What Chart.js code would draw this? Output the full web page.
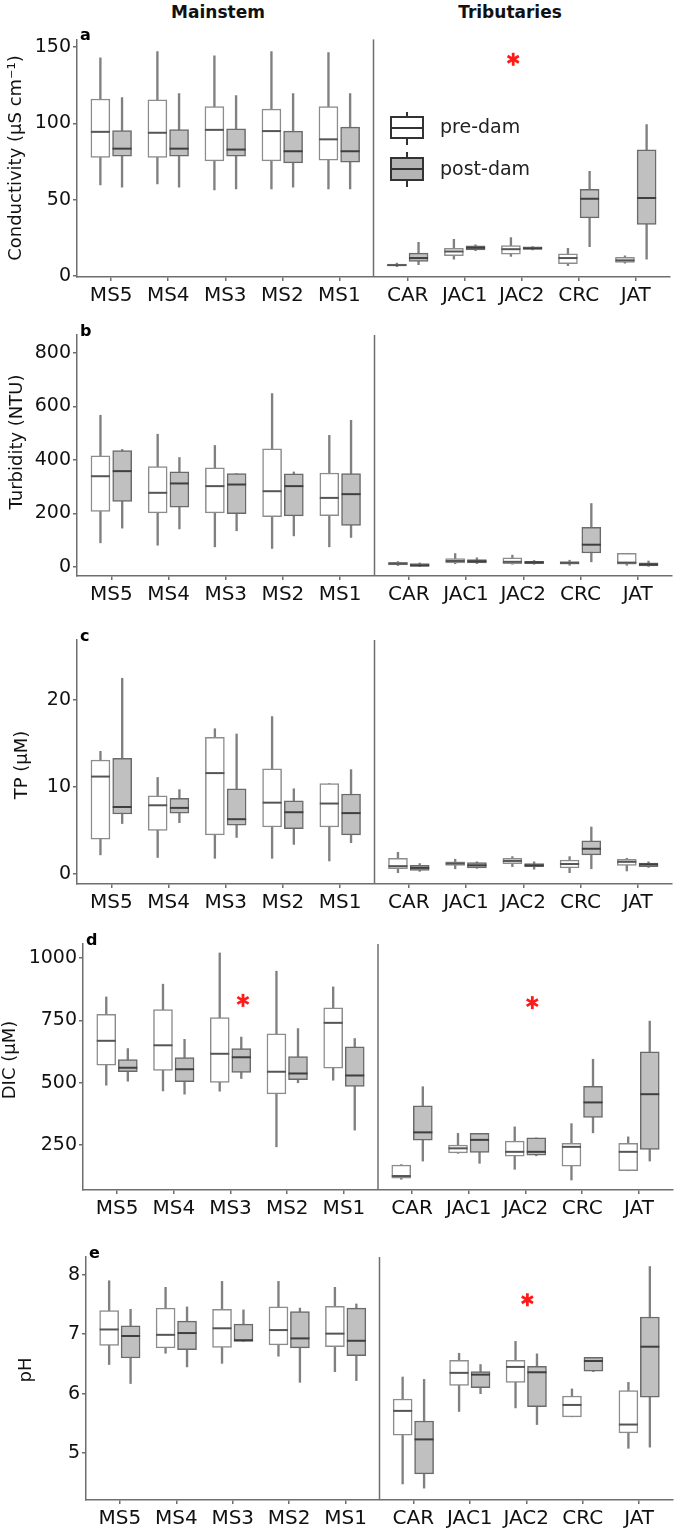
<!DOCTYPE html>
<html><head><meta charset="utf-8">
<script src="https://cdn.jsdelivr.net/npm/chart.js@4.4.0/dist/chart.umd.min.js"></script>
<style>
body{margin:0;background:#fff;width:685px;height:1533px;position:relative;overflow:hidden;font-family:'DejaVu Sans',sans-serif;}
canvas{position:absolute;left:0;}
.hdr{position:absolute;top:2px;font:bold 17px 'DejaVu Sans',sans-serif;color:#111;transform:translateX(-50%);white-space:nowrap;line-height:20px;}
</style></head><body>
<div class="hdr" style="left:218px">Mainstem</div>
<div class="hdr" style="left:510px">Tributaries</div>
<canvas id="cA"></canvas>
<canvas id="cB"></canvas>
<canvas id="cC"></canvas>
<canvas id="cD"></canvas>
<canvas id="cE"></canvas>
<script>
// ---------------- DATA ----------------
const categories = ['MS5','MS4','MS3','MS2','MS1','CAR','JAC1','JAC2','CRC','JAT'];
// each entry: [min, q1, median, q3, max]
const condPre = [[59.8,77.7,94.5,116,142.9],[60.4,77.7,93.9,115.5,147],[56.5,75.5,95.8,111,144.2],[57.2,75.5,95,109.4,147],[57.2,76,89.6,111,146.3],
  [6.2,6.8,7.3,8,8.6],[11.2,13.4,16.2,18.3,24.2],[13,14.5,17.7,20,25.3],[6.9,8.2,11.9,14.7,18.3],[8.6,9.1,10.4,12.3,13.4]];
const condPost = [[58.3,78.6,83.5,95.4,117],[58.3,78.6,83.5,96,119.6],[57.2,78.6,82.9,96.5,118.3],[58.3,74.2,81.8,95,119.6],[57.2,74.7,81.8,97.6,119.6],
  [7.6,9.7,11.9,15.1,22.2],[16.8,17.3,18.6,19.9,20.5],[17.3,17.5,18.3,19.2,19.4],[19.4,38.2,50.7,56.8,68.6],[11.2,33.9,51.2,82.7,99.3]];
const turbPre = [[90,207,339,415,567],[81,202,277,375,496],[75,202,302,370,454],[69,188,283,441,648],[75,192,258,351,492],
  [5,7.5,12,17,20],[12,15,22,31,50],[10,12,19,34,44],[6,10,15,20,25],[6,10,16,51,51]];
const turbPost = [[145,245,358,435,439],[142,223,312,355,409],[135,199,308,349,349],[116,191,302,348,355],[110,155,272,349,548],
  [1,2,6,12,15],[12,15,21,27,34],[10,12,17,21,24],[19,52,83,148,237],[2,4,9,15,22]];
const tpPre = [[2.2,4.0,11.2,13.1,14.1],[1.9,5.0,7.9,9.0,11.1],[1.8,4.5,11.6,15.7,16.7],[1.8,5.4,8.2,12.1,18.1],[1.5,5.4,8.1,10.4,10.4],
  [0.15,0.6,0.9,1.8,2.5],[0.6,1.0,1.2,1.4,1.7],[0.85,1.2,1.5,1.8,2.0],[0.15,0.7,1.15,1.6,2.0],[0.35,1.0,1.4,1.7,1.8]];
const tpPost = [[5.8,6.9,7.7,13.3,22.5],[5.9,7.0,7.6,8.7,9.7],[4.2,5.6,6.3,9.8,16.1],[3.4,5.2,7.1,8.4,9.8],[3.6,4.5,7.0,9.2,12.0],
  [0.3,0.4,0.7,1.0,1.2],[0.65,0.7,1.0,1.3,1.4],[0.55,0.85,1.0,1.2,1.4],[0.6,2.2,2.9,3.8,5.4],[0.75,0.85,1.1,1.25,1.4]];
const dicPre = [[490,570,668,774,844],[467,549,650,793,895],[466,501,616,761,1020],[243,455,544,696,947],[510,558,740,800,884],
  [113,117,126,170,172],[217,219,237,250,297],[153,206,223,266,323],[110,166,243,257,336],[147,147,223,257,283]];
const dicPost = [[506,544,560,593,637],[454,504,554,601,674],[517,541,602,637,683],[500,512,537,605,717],[310,485,529,644,677],
  [186,270,301,407,484],[177,221,271,297,297],[207,210,223,279,279],[299,361,421,486,594],[186,233,454,624,747]];
const phPre = [[6.49,6.81,7.08,7.40,7.90],[6.68,6.77,6.99,7.44,7.79],[6.51,6.78,7.10,7.42,7.89],[6.63,6.82,7.07,7.46,7.89],[6.37,6.79,7.01,7.47,7.79],
  [4.48,5.30,5.71,5.91,6.28],[5.70,6.14,6.35,6.56,6.68],[5.76,6.19,6.45,6.56,6.88],[5.61,5.61,5.81,5.96,6.08],[5.08,5.34,5.48,6.05,6.19]];
const phPost = [[6.17,6.60,6.97,7.14,7.42],[6.45,6.74,7.02,7.22,7.46],[6.88,6.88,6.90,7.17,7.41],[6.19,6.77,6.93,7.38,7.44],[6.22,6.64,6.89,7.44,7.51],
  [4.41,4.65,5.23,5.54,6.24],[6.00,6.10,6.32,6.37,6.49],[5.48,5.78,6.36,6.46,6.67],[6.37,6.38,6.55,6.61,6.61],[5.10,5.94,6.79,7.29,8.14]];
const condTicks = [0,50,100,150];
const turbTicks = [0,200,400,600,800];
const tpTicks = [0,10,20];
const dicTicks = [250,500,750,1000];
const phTicks = [5,6,7,8];
// significance asterisks [x position (category units), y value]
const condStars = [[8.05,142]];
const turbStars = [];
const tpStars = [];
const dicStars = [[3.22,830],[8.32,821]];
const phStars = [[8.22,7.58]];

// ---------------- STYLE / LAYOUT ----------------
const AXIS = '#6e6e6e';
const WHISK = '#808080';
const PRE_BORDER = '#8c8c8c', PRE_MED = '#555555';
const POST_FILL = '#c0c0c0', POST_BORDER = '#6a6a6a', POST_MED = '#3f3f3f';
const DODGE = 0.19, BOXW = 19;
const DIVIDER = 5.6;
const catPos = i => i < 5 ? i + 1 : i + 1.2;
const positions = categories.map((c, i) => catPos(i));
Chart.defaults.font.family = "'DejaVu Sans', sans-serif";

const panels = [
  {id:'cA', letter:'a', title:'Conductivity (µS cm⁻¹)', pre:condPre, post:condPost, ticks:condTicks, stars:condStars,
   yMin:-0.5, yMax:155, top:26, h:292, plotTop:38, plotBottom:277, left:77, right:670, titleX:16, titleY:158, legend:true},
  {id:'cB', letter:'b', title:'Turbidity (NTU)', pre:turbPre, post:turbPost, ticks:turbTicks, stars:turbStars,
   yMin:-34, yMax:867, top:320, h:298, plotTop:335, plotBottom:576, left:77, right:672, titleX:17, titleY:442},
  {id:'cC', letter:'c', title:'TP (µM)', pre:tpPre, post:tpPost, ticks:tpTicks, stars:tpStars,
   yMin:-1.15, yMax:26.9, top:622, h:304, plotTop:640, plotBottom:884, left:77, right:672, titleX:22, titleY:765},
  {id:'cD', letter:'d', title:'DIC (µM)', pre:dicPre, post:dicPost, ticks:dicTicks, stars:dicStars,
   yMin:70, yMax:1056, top:930, h:302, plotTop:944, plotBottom:1190, left:83, right:673, titleX:10, titleY:1060},
  {id:'cE', letter:'e', title:'pH', pre:phPre, post:phPost, ticks:phTicks, stars:phStars,
   yMin:4.21, yMax:8.3, top:1240, h:293, plotTop:1257, plotBottom:1500, left:86, right:673, titleX:26, titleY:1370}
];

function star(ctx, cx, cy, r) {
  ctx.save();
  ctx.strokeStyle = '#ff1a1a'; ctx.lineWidth = 2.8; ctx.lineCap = 'butt';
  for (let k = 0; k < 3; k++) {
    const a = Math.PI / 2 + k * Math.PI / 3;
    ctx.beginPath();
    ctx.moveTo(cx + r * Math.cos(a), cy + r * Math.sin(a));
    ctx.lineTo(cx - r * Math.cos(a), cy - r * Math.sin(a));
    ctx.stroke();
  }
  ctx.restore();
}

function makeExtras(p) {
  return {
    id: 'extras',
    afterDatasetsDraw(chart) {
      const {ctx, chartArea: ca, scales: {x: xs, y: ys}} = chart;
      ctx.save();
      ctx.lineWidth = 2;
      [[p.pre, -DODGE, PRE_MED], [p.post, DODGE, POST_MED]].forEach(([arr, off, col]) => {
        ctx.strokeStyle = col;
        arr.forEach((d, i) => {
          const cx = xs.getPixelForValue(catPos(i) + off), cy = ys.getPixelForValue(d[2]);
          ctx.beginPath(); ctx.moveTo(cx - BOXW / 2, cy); ctx.lineTo(cx + BOXW / 2, cy); ctx.stroke();
        });
      });
      // facet divider
      const dx = xs.getPixelForValue(DIVIDER);
      ctx.strokeStyle = AXIS; ctx.lineWidth = 1.5;
      ctx.beginPath(); ctx.moveTo(dx, ca.top); ctx.lineTo(dx, ca.bottom); ctx.stroke();
      // asterisks
      p.stars.forEach(s => star(ctx, xs.getPixelForValue(s[0]), ys.getPixelForValue(s[1]), 6.5));
      ctx.restore();
    },
    afterDraw(chart) {
      const {ctx, chartArea: ca} = chart;
      ctx.save();
      // y-axis title
      ctx.fillStyle = '#111';
      ctx.font = "18px 'DejaVu Sans', sans-serif";
      ctx.textAlign = 'center'; ctx.textBaseline = 'middle';
      ctx.translate(p.titleX, p.titleY - p.top);
      ctx.rotate(-Math.PI / 2);
      ctx.fillText(p.title, 0, 0);
      ctx.restore();
      // panel letter
      ctx.save();
      ctx.fillStyle = '#000';
      ctx.font = "bold 16px 'DejaVu Sans', sans-serif";
      ctx.textAlign = 'left'; ctx.textBaseline = 'alphabetic';
      ctx.fillText(p.letter, ca.left + 3, ca.top + 0.5);
      ctx.restore();
      if (p.legend) {
        ctx.save();
        const t = p.top;
        const glyph = (y1, y2, b1, b2, m, fill) => {
          ctx.strokeStyle = '#333'; ctx.lineWidth = 2;
          ctx.beginPath(); ctx.moveTo(407, y1 - t); ctx.lineTo(407, y2 - t); ctx.stroke();
          ctx.fillStyle = fill;
          ctx.fillRect(391, b1 - t, 32, b2 - b1);
          ctx.strokeRect(391, b1 - t, 32, b2 - b1);
          ctx.beginPath(); ctx.moveTo(391, m - t); ctx.lineTo(423, m - t); ctx.stroke();
        };
        glyph(112, 145, 117, 138, 128, '#ffffff');
        glyph(152, 187, 158, 180, 169, '#b4b4b4');
        ctx.fillStyle = '#222';
        ctx.font = "19px 'DejaVu Sans', sans-serif";
        ctx.textAlign = 'left'; ctx.textBaseline = 'middle';
        ctx.fillText('pre-dam', 440, 128 - t);
        ctx.fillText('post-dam', 440, 170 - t);
        ctx.restore();
      }
    }
  };
}

panels.forEach(p => {
  const cv = document.getElementById(p.id);
  cv.width = 685; cv.height = p.h;
  cv.style.top = p.top + 'px'; cv.style.width = '685px'; cv.style.height = p.h + 'px';
  const xH = p.top + p.h - p.plotBottom;
  const mk = (arr, off, fn) => arr.map((d, i) => ({x: catPos(i) + off, y: fn(d)}));
  const datasets = [
    {data: mk(p.pre, -DODGE, d => [d[0], d[4]]), backgroundColor: WHISK, borderWidth: 0, barThickness: 1.7, maxBarThickness: 1.7, grouped: false, order: 2},
    {data: mk(p.post, DODGE, d => [d[0], d[4]]), backgroundColor: WHISK, borderWidth: 0, barThickness: 1.7, maxBarThickness: 1.7, grouped: false, order: 2},
    {data: mk(p.pre, -DODGE, d => [d[1], d[3]]), backgroundColor: '#ffffff', borderColor: PRE_BORDER, borderWidth: 1.5, borderSkipped: false, barThickness: BOXW, maxBarThickness: BOXW, grouped: false, order: 1},
    {data: mk(p.post, DODGE, d => [d[1], d[3]]), backgroundColor: POST_FILL, borderColor: POST_BORDER, borderWidth: 1.5, borderSkipped: false, barThickness: BOXW, maxBarThickness: BOXW, grouped: false, order: 1}
  ];
  new Chart(cv, {
    type: 'bar',
    data: {datasets},
    options: {
      responsive: false, animation: false, devicePixelRatio: 1,
      layout: {padding: {top: p.plotTop - p.top, right: 685 - p.right, left: 0, bottom: 0}},
      plugins: {legend: {display: false}, tooltip: {enabled: false}},
      scales: {
        x: {
          type: 'linear', min: 0.4, max: 10.8, offset: false,
          afterBuildTicks: s => { s.ticks = positions.map(v => ({value: v})); },
          afterFit: s => { s.height = xH; },
          ticks: {
            autoSkip: false, maxRotation: 0, padding: 3, color: '#111', font: {size: 20},
            callback: v => { const i = positions.findIndex(q => Math.abs(q - v) < 1e-6); return i >= 0 ? categories[i] : ''; }
          },
          grid: {drawOnChartArea: false, drawTicks: true, tickLength: 4, color: AXIS, lineWidth: 1.5, offset: false},
          border: {display: true, color: AXIS, width: 1.5}
        },
        y: {
          type: 'linear', min: p.yMin, max: p.yMax,
          afterBuildTicks: s => { s.ticks = p.ticks.map(v => ({value: v})); },
          afterFit: s => { s.width = p.left; },
          ticks: {padding: 2, color: '#111', font: {size: 19}, callback: v => String(v)},
          grid: {drawOnChartArea: false, drawTicks: true, tickLength: 4, color: AXIS, lineWidth: 1.5},
          border: {display: true, color: AXIS, width: 1.5}
        }
      }
    },
    plugins: [makeExtras(p)]
  });
});
</script>
</body></html>
